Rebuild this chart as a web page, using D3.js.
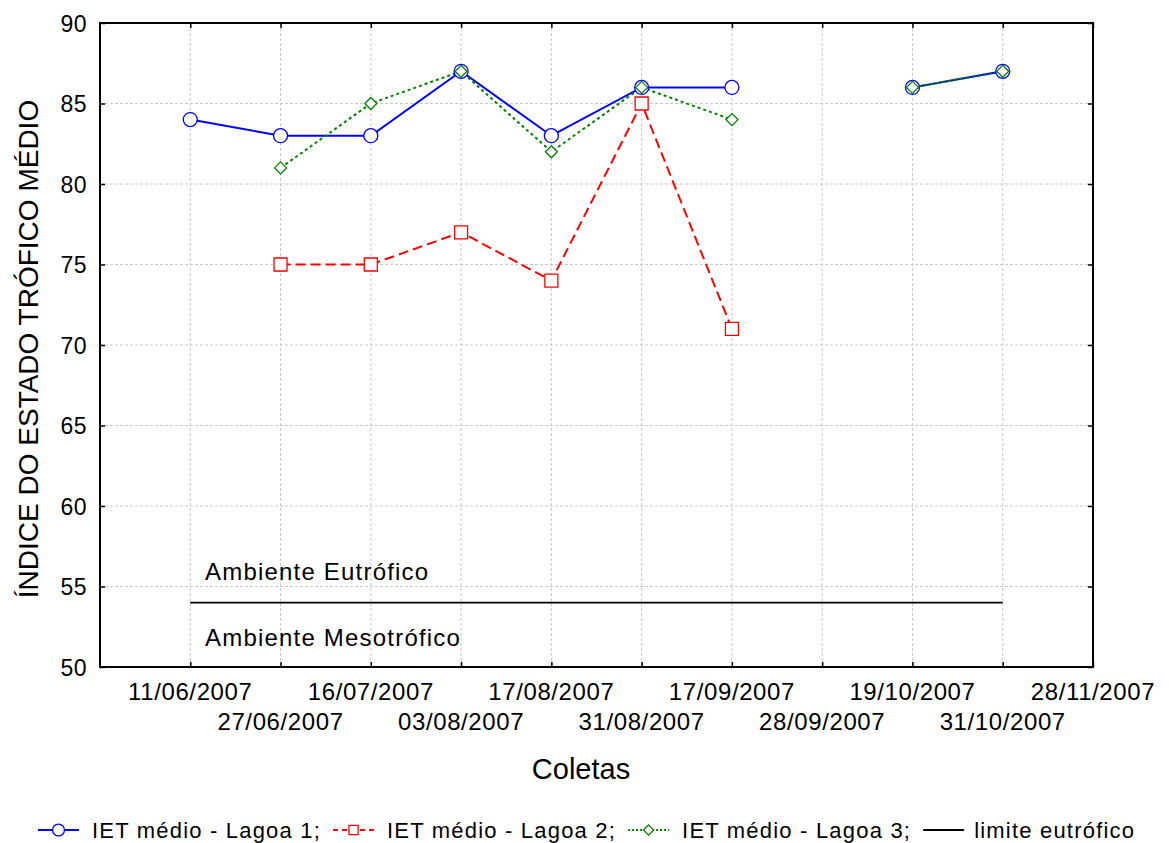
<!DOCTYPE html>
<html><head><meta charset="utf-8">
<script src="https://cdn.jsdelivr.net/npm/d3@7"></script>
<style>body{margin:0;background:#fff}svg{display:block}text{font-family:"Liberation Sans",Arial,sans-serif}</style>
</head><body><svg id="c" width="1169" height="843"></svg>
<script>
const categories=["11/06/2007","27/06/2007","16/07/2007","03/08/2007","17/08/2007","31/08/2007","17/09/2007","28/09/2007","19/10/2007","31/10/2007","28/11/2007"];
const lagoa1=[84,83,83,87,83,86,86,null,86,87,null];
const lagoa2=[null,75,75,77,74,85,71,null,null,null,null];
const lagoa3=[null,81,85,87,82,86,84,null,86,87,null];
const limite=[54,54,54,54,54,54,54,54,54,54,null];
const yTicks=[50,55,60,65,70,75,80,85,90];
const seriesNames=["IET médio - Lagoa 1;","IET médio - Lagoa 2;","IET médio - Lagoa 3;","limite eutrófico"];

const svg=d3.select("#c");
const L=100,R=1093,T=23,B=667;
const x=d3.scaleLinear().domain([0,11]).range([L,R]);
const y=d3.scaleLinear().domain([50,90]).range([B,T]);
const xi=i=>x(i+1);

// grid
const g=svg.append("g");
categories.forEach((c,i)=>{ if(i<10) g.append("line").attr("x1",xi(i)).attr("x2",xi(i)).attr("y1",T).attr("y2",B).attr("stroke","#c8c8c8").attr("stroke-dasharray","3,2").attr("stroke-width",1);});
yTicks.slice(1,-1).forEach(v=>g.append("line").attr("x1",L).attr("x2",R).attr("y1",y(v)).attr("y2",y(v)).attr("stroke","#c8c8c8").attr("stroke-dasharray","3,2").attr("stroke-width",1));

// axes (inward ticks)
const axB=d3.axisBottom(x).tickValues(d3.range(1,12)).tickSize(-5).tickFormat("");
const axT=d3.axisTop(x).tickValues(d3.range(1,12)).tickSize(-5).tickFormat("");
const axL=d3.axisLeft(y).tickValues(yTicks).tickSize(-5).tickFormat(d3.format("d")).tickPadding(13);
const axR=d3.axisRight(y).tickValues(yTicks).tickSize(-5).tickFormat("");
function style(sel){sel.select(".domain").remove();sel.selectAll(".tick line").attr("stroke","#000").attr("stroke-width",1.5);sel.selectAll("text").attr("font-size",23).attr("fill","#000").attr("letter-spacing","0.5").attr("dy","0.36em").style("font-family","Liberation Sans, Arial");}
svg.append("g").attr("transform",`translate(0,${B})`).call(axB).call(style);
svg.append("g").attr("transform",`translate(0,${T})`).call(axT).call(style);
svg.append("g").attr("transform",`translate(${L},0)`).call(axL).call(style);
svg.append("g").attr("transform",`translate(${R},0)`).call(axR).call(style);
svg.append("rect").attr("x",L).attr("y",T).attr("width",R-L).attr("height",B-T).attr("fill","none").attr("stroke","#000").attr("stroke-width",2);

// x tick labels staggered
categories.forEach((c,i)=>{
  svg.append("text").attr("x",xi(i)).attr("y",i%2===0?700:730).attr("text-anchor","middle").attr("font-size",24).attr("letter-spacing","0.6").text(c);
});

// titles
svg.append("text").attr("x",581).attr("y",779).attr("text-anchor","middle").attr("font-size",29).text("Coletas");
svg.append("text").attr("transform",`translate(38,349) rotate(-90)`).attr("text-anchor","middle").attr("font-size",28).text("ÍNDICE DO ESTADO TRÓFICO MÉDIO");

// limit line
const line=d3.line().defined(d=>d.v!=null).x(d=>xi(d.i)).y(d=>y(d.v));
const toPts=arr=>arr.map((v,i)=>({i,v}));
svg.append("path").datum(toPts(limite)).attr("d",line).attr("fill","none").attr("stroke","#000").attr("stroke-width",1.8);
svg.append("text").attr("x",205).attr("y",580).attr("font-size",24).attr("letter-spacing","1.2").text("Ambiente Eutrófico");
svg.append("text").attr("x",205).attr("y",646).attr("font-size",24).attr("letter-spacing","1.2").text("Ambiente Mesotrófico");

// series
const conf=[
 {data:lagoa1,color:"#0000ff",dash:null,sym:"circle"},
 {data:lagoa2,color:"#ff0000",dash:"10,5",sym:"square"},
 {data:lagoa3,color:"#008000",dash:"3,3",sym:"diamond"}
];
const sym={circle:d3.symbol(d3.symbolCircle,Math.PI*49)(),square:"M-6.5,-6.5H6.5V6.5H-6.5Z",diamond:"M0,-6L6,0L0,6L-6,0Z"};
conf.forEach(s=>{
  svg.append("path").datum(toPts(s.data)).attr("d",line).attr("fill","none").attr("stroke",s.color).attr("stroke-width",2).attr("stroke-dasharray",s.dash);
});
conf.forEach(s=>{
  svg.append("g").selectAll("path").data(toPts(s.data).filter(d=>d.v!=null)).join("path")
   .attr("transform",d=>`translate(${xi(d.i)},${y(d.v)})`).attr("d",sym[s.sym]).attr("fill","#fff").attr("stroke",s.color).attr("stroke-width",1.3);
});

// legend
const lg=svg.append("g");
let lx=38; const ly=830;
const legItems=[conf[0],conf[1],conf[2],{color:"#000",dash:null,sym:null}];
legItems.forEach((s,k)=>{
  const w=41;
  if(s.sym){
    lg.append("line").attr("x1",lx).attr("x2",lx+w).attr("y1",ly).attr("y2",ly).attr("stroke",s.color).attr("stroke-width",2).attr("stroke-dasharray",s.dash?(s.sym==="square"?"5,4":"2,2"):null);
    const sc=s.sym==="circle"?0.85:(s.sym==="square"?0.7:0.85);
    lg.append("path").attr("transform",`translate(${lx+w/2},${ly}) scale(${sc})`).attr("d",sym[s.sym]).attr("fill","#fff").attr("stroke",s.color).attr("stroke-width",1.3/sc);
  } else {
    lg.append("line").attr("x1",lx).attr("x2",lx+w).attr("y1",ly).attr("y2",ly).attr("stroke","#000").attr("stroke-width",2);
  }
  const tx=lx+(s.sym?54:51);
  const t=lg.append("text").attr("x",tx).attr("y",ly+8).attr("font-size",22).attr("letter-spacing","1.2").text(seriesNames[k]);
  lx=tx+t.node().getComputedTextLength()+12;
});
</script></body></html>
